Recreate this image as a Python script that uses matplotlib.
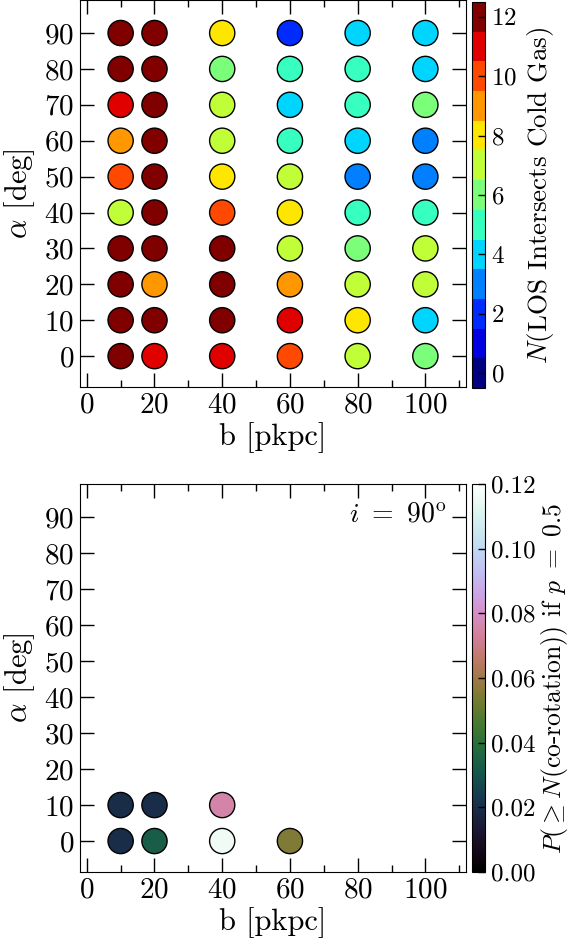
import matplotlib
matplotlib.use("Agg")
import matplotlib.pyplot as plt
import matplotlib.colors as mcolors
import numpy as np

plt.rcParams['font.family'] = 'serif'
plt.rcParams['font.serif'] = ['cmr10']
plt.rcParams['mathtext.fontset'] = 'cm'
plt.rcParams['axes.formatter.use_mathtext'] = True
plt.rcParams['font.size'] = 21

# impact parameter b [pkpc] and azimuthal angle alpha [deg]
b_vals = [10, 20, 40, 60, 80, 100]
alpha_vals = [90, 80, 70, 60, 50, 40, 30, 20, 10, 0]

# N(LOS intersects cold gas): rows = alpha (90 -> 0), cols = b
n_los = [
    [12, 12, 8, 2, 4, 4],
    [12, 12, 6, 5, 5, 4],
    [11, 12, 7, 4, 5, 6],
    [9, 12, 7, 5, 4, 3],
    [10, 12, 8, 7, 3, 3],
    [7, 12, 10, 8, 5, 5],
    [12, 12, 12, 7, 6, 7],
    [12, 9, 12, 9, 7, 7],
    [12, 12, 12, 11, 8, 4],
    [12, 11, 11, 10, 7, 6],
]

# probability of >= N co-rotating sightlines if p = 0.5 (i = 90 deg)
p_b = [10, 20, 40, 10, 20, 40, 60]
p_alpha = [10, 10, 10, 0, 0, 0, 0]
p_val = [0.020, 0.020, 0.075, 0.020, 0.033, 0.116, 0.055]

B, A = np.meshgrid(b_vals, alpha_vals)
N = np.array(n_los)

fig = plt.figure(figsize=(5.69, 9.43), dpi=100)
W, H = 569, 943
ax1 = fig.add_axes([80 / W, 1 - 387 / H, 386 / W, 387 / H])
cax1 = fig.add_axes([472 / W, 1 - 388 / H, 13 / W, 386 / H])
ax2 = fig.add_axes([80 / W, 1 - 872 / H, 386 / W, 388 / H])
cax2 = fig.add_axes([472 / W, 1 - 872 / H, 13 / W, 388 / H])

cmap1 = plt.get_cmap('jet', 13)
norm1 = mcolors.Normalize(vmin=-0.5, vmax=12.5)
sc1 = ax1.scatter(B.ravel(), A.ravel(), c=N.ravel(), cmap=cmap1, norm=norm1,
                  s=330, edgecolors='k', linewidths=1.0, zorder=3)

sc2 = ax2.scatter(p_b, p_alpha, c=p_val, cmap='cubehelix', vmin=0, vmax=0.12,
                  s=330, edgecolors='k', linewidths=1.0, zorder=3)

for ax in (ax1, ax2):
    ax.set_xlim(-2, 112)
    ax.set_ylim(-8.6, 99.2)
    ax.set_xticks([0, 20, 40, 60, 80, 100])
    ax.set_xticks([10, 30, 50, 70, 90, 110], minor=True)
    ax.set_yticks(alpha_vals)
    ax.tick_params(which='both', direction='in', top=True, right=True, pad=4)
    ax.tick_params(which='major', length=10, width=1.0, labelsize=21)
    ax.tick_params(which='minor', length=5, width=1.0)
    ax.set_xlabel('b [pkpc]', fontsize=22, labelpad=2)
    ax.set_ylabel(r'$\alpha$ [deg]', fontsize=22, labelpad=5)

ax2.text(0.95, 0.92, r'$i\ =\ 90^{\rm o}$', transform=ax2.transAxes,
         ha='right', va='center', fontsize=20)

cb1 = fig.colorbar(sc1, cax=cax1, ticks=[0, 2, 4, 6, 8, 10, 12])
cb1.set_label(r'$N$(LOS Intersects Cold Gas)', fontsize=19.5, labelpad=6)
cb2 = fig.colorbar(sc2, cax=cax2, ticks=[0, 0.02, 0.04, 0.06, 0.08, 0.10, 0.12])
cb2.ax.set_yticklabels(['0.00', '0.02', '0.04', '0.06', '0.08', '0.10', '0.12'])
cb2.set_label(r'$P(\geq N$(co-rotation)) if $p\ =\ 0.5$', fontsize=18.5, labelpad=3)
for cb in (cb1, cb2):
    cb.ax.tick_params(direction='in', length=5, width=1.0, labelsize=18, pad=4)
    cb.ax.minorticks_off()

fig.savefig('out.png', dpi=100)
